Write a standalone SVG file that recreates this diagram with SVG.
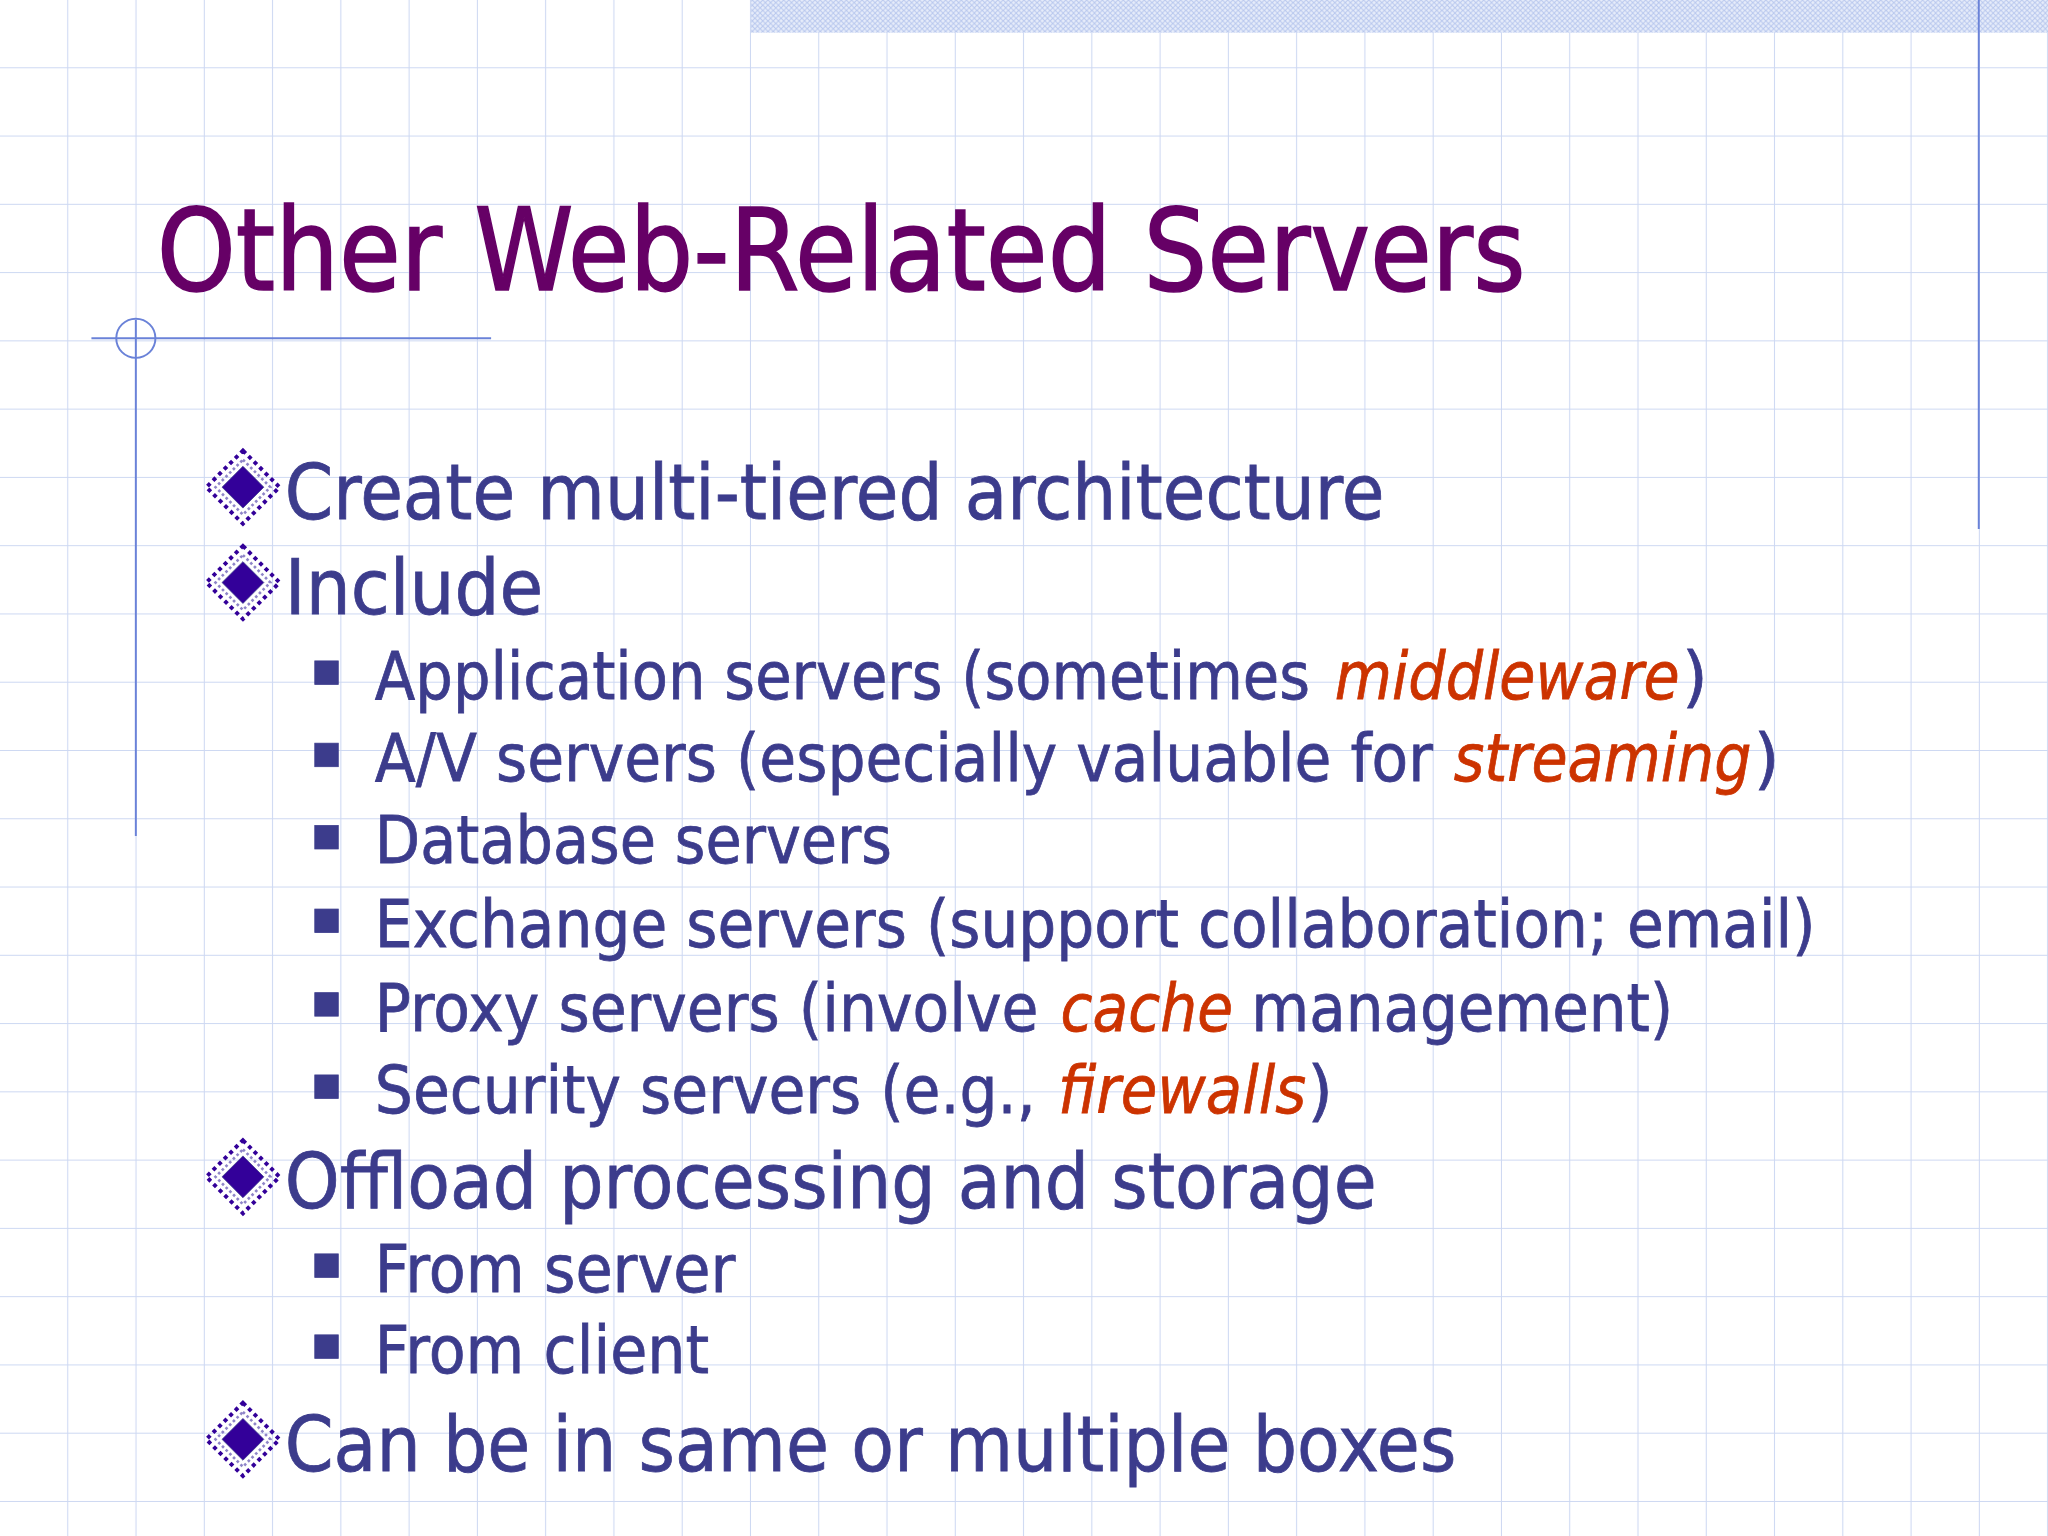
<svg xmlns="http://www.w3.org/2000/svg" width="2048" height="1536" viewBox="0 0 2048 1536">
<defs>
<pattern id="grid" x="0" y="0" width="52.27" height="52.27" patternUnits="userSpaceOnUse">
<path d="M52.27 0V52.27M0 52.27H52.27" fill="none" stroke="#cdd8f2" stroke-width="1.6"/>
</pattern>
<pattern id="hatch" width="4" height="4" patternUnits="userSpaceOnUse">
<rect width="4" height="4" fill="#e6ecfa"/>
<path d="M0 0L4 4M4 0L0 4" stroke="#b9c8ee" stroke-width="0.8"/>
</pattern>
<g id="dia">
<path d="M0 -28L28 0L0 28L-28 0Z" fill="none" stroke="#330099" stroke-width="3" stroke-dasharray="3 3"/>
<path d="M0 -21L21 0L0 21L-21 0Z" fill="none" stroke="#8f85c8" stroke-width="2" stroke-dasharray="2 2"/>
<path d="M0 -16L16 0L0 16L-16 0Z" fill="#330099"/>
</g>
<rect id="sq" width="18" height="18" fill="#3c3c8c"/>
</defs>
<style>
.t{font-family:"DejaVu Sans","Liberation Sans",sans-serif;}
.b{fill:#3c3c8c;stroke:#3c3c8c;stroke-width:0.6}
.r{fill:#cc3300;stroke:#cc3300;font-style:italic}
</style>
<g transform="scale(1.30612)">
<rect width="1568" height="1176" fill="#ffffff"/>
<rect width="1568" height="1176" fill="url(#grid)"/>
<rect x="575" y="0" width="993" height="25" fill="url(#hatch)"/>
<g id="decor" stroke="#6a82d8" fill="none" stroke-width="1.5">
<line x1="1515" y1="0" x2="1515" y2="405"/>
<line x1="104" y1="245" x2="104" y2="640"/>
<line x1="70" y1="259" x2="376" y2="259"/>
<circle cx="104" cy="259" r="15"/>
</g>
<g id="title"><text class="t" x="120" y="222" font-size="88" fill="#660066" stroke="#660066" stroke-width="1.2" textLength="1048" lengthAdjust="spacingAndGlyphs">Other Web-Related Servers</text></g>
<g id="l1" class="t b" font-size="58">
<use href="#dia" x="186" y="373"/><text x="218" y="397" textLength="842" lengthAdjust="spacingAndGlyphs">Create multi-tiered architecture</text>
<use href="#dia" x="186" y="446"/><text x="218" y="470" textLength="198" lengthAdjust="spacingAndGlyphs">Include</text>
<use href="#dia" x="186" y="901"/><text x="218" y="925" textLength="836" lengthAdjust="spacingAndGlyphs">Offload processing and storage</text>
<use href="#dia" x="186" y="1102"/><text x="218" y="1126" textLength="897" lengthAdjust="spacingAndGlyphs">Can be in same or multiple boxes</text>
</g>
<g id="l2" class="t b" font-size="50">
<use href="#sq" x="241" y="506"/><text x="287" y="535" textLength="716" lengthAdjust="spacingAndGlyphs">Application servers (sometimes</text><text class="r" x="1022" y="535" textLength="264" lengthAdjust="spacingAndGlyphs">middleware</text><text x="1288" y="535">)</text>
<use href="#sq" x="241" y="569"/><text x="287" y="598" textLength="810" lengthAdjust="spacingAndGlyphs">A/V servers (especially valuable for</text><text class="r" x="1113" y="598" textLength="228" lengthAdjust="spacingAndGlyphs">streaming</text><text x="1343" y="598">)</text>
<use href="#sq" x="241" y="632"/><text x="287" y="661" textLength="396" lengthAdjust="spacingAndGlyphs">Database servers</text>
<use href="#sq" x="241" y="696"/><text x="287" y="725" textLength="1103" lengthAdjust="spacingAndGlyphs">Exchange servers (support collaboration; email)</text>
<use href="#sq" x="241" y="760"/><text x="287" y="789" textLength="508" lengthAdjust="spacingAndGlyphs">Proxy servers (involve</text><text class="r" x="812" y="789" textLength="132" lengthAdjust="spacingAndGlyphs">cache</text><text x="958" y="789" textLength="323" lengthAdjust="spacingAndGlyphs">management)</text>
<use href="#sq" x="241" y="823"/><text x="287" y="852" textLength="506" lengthAdjust="spacingAndGlyphs">Security servers (e.g.,</text><text class="r" x="810" y="852" textLength="190" lengthAdjust="spacingAndGlyphs">firewalls</text><text x="1001" y="852">)</text>
<use href="#sq" x="241" y="960"/><text x="287" y="989" textLength="276" lengthAdjust="spacingAndGlyphs">From server</text>
<use href="#sq" x="241" y="1022"/><text x="287" y="1051" textLength="256" lengthAdjust="spacingAndGlyphs">From client</text>
</g>
</g>
</svg>
